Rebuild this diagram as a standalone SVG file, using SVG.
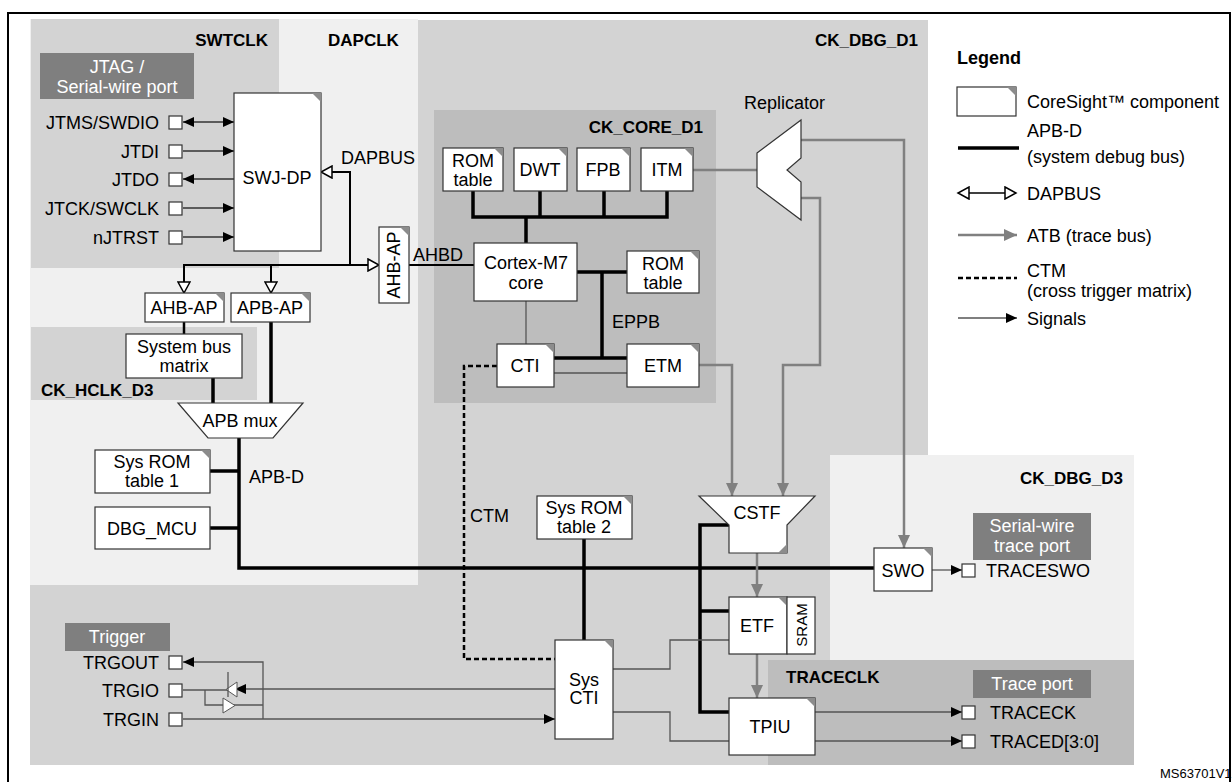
<svg xmlns="http://www.w3.org/2000/svg" width="1232" height="782" viewBox="0 0 1232 782">
<style>
text{font-family:"Liberation Sans",Arial,sans-serif;font-size:18px;fill:#000}
.b{font-weight:bold;font-size:17px}
.w{fill:#fff}
.m{text-anchor:middle}
.e{text-anchor:end}
.box{fill:#fff;stroke:#333;stroke-width:1.2}
.cm{fill:#8c8c8c}
.th{fill:none;stroke:#000;stroke-width:3.5}
.sg{fill:none;stroke:#555;stroke-width:1.3}
.atb{fill:none;stroke:#808080;stroke-width:2.5}
.dp{fill:none;stroke:#000;stroke-width:2}
.pin{fill:#fff;stroke:#333;stroke-width:1.2}
.lbl{fill:#7f7f7f}
</style>
<defs>
<marker id="as" markerUnits="userSpaceOnUse" markerWidth="12" markerHeight="12" refX="11" refY="6" orient="auto-start-reverse"><path d="M0,1 L11,6 L0,11 z" fill="#000"/></marker>
<marker id="ag" markerUnits="userSpaceOnUse" markerWidth="14" markerHeight="14" refX="13" refY="7" orient="auto-start-reverse"><path d="M0,1 L13,7 L0,13 z" fill="#808080"/></marker>
<marker id="ao" markerUnits="userSpaceOnUse" markerWidth="14" markerHeight="14" refX="12" refY="7" orient="auto-start-reverse"><path d="M1,1 L12,7 L1,13 z" fill="#fff" stroke="#000" stroke-width="1.5"/></marker>
</defs>

<g id="background">
<rect x="30" y="20" width="898" height="745" fill="#d3d3d3"/>
<rect x="928" y="14" width="300" height="441" fill="#fff"/>
<rect x="30" y="19" width="388" height="566" fill="#f0f0f0"/>
<rect x="31" y="19" width="248" height="249" fill="#d3d3d3"/>
<rect x="31" y="327" width="226" height="73" fill="#d3d3d3"/>
<rect x="434" y="110" width="282" height="293" fill="#bdbdbd"/>
<rect x="830" y="455" width="304" height="205" fill="#f0f0f0"/>
<rect x="768" y="660" width="366" height="105" fill="#bdbdbd"/>
<path d="M8,782 V13 H1230 V782" fill="none" stroke="#000" stroke-width="2"/>
<text class="b e" x="268" y="46">SWTCLK</text>
<text class="b" x="328" y="46">DAPCLK</text>
<text class="b e" x="918" y="46">CK_DBG_D1</text>
<text class="b e" x="703" y="133">CK_CORE_D1</text>
<text class="b" x="41" y="396">CK_HCLK_D3</text>
<text class="b e" x="1123" y="484">CK_DBG_D3</text>
<text class="b" x="786" y="683">TRACECLK</text>
<text x="1160" y="778" style="font-size:13px">MS63701V1</text>
</g>

<g id="labels">
<rect class="lbl" x="40" y="53" width="154" height="46"/>
<text class="w m" x="117" y="73">JTAG /</text>
<text class="w m" x="117" y="93">Serial-wire port</text>
<rect class="lbl" x="65" y="623" width="105" height="28"/>
<text class="w m" x="117" y="643">Trigger</text>
<rect class="lbl" x="973" y="513" width="118" height="47"/>
<text class="w m" x="1032" y="532">Serial-wire</text>
<text class="w m" x="1032" y="552">trace port</text>
<rect class="lbl" x="973" y="670" width="118" height="28"/>
<text class="w m" x="1032" y="690">Trace port</text>
</g>

<g id="connectors">
<line class="sg" x1="183" y1="122" x2="234" y2="122" marker-start="url(#as)" marker-end="url(#as)" style="stroke:#333"/>
<line class="sg" x1="183" y1="151" x2="234" y2="151" marker-end="url(#as)" style="stroke:#333"/>
<line class="sg" x1="234" y1="179" x2="183" y2="179" marker-end="url(#as)" style="stroke:#333"/>
<line class="sg" x1="183" y1="208" x2="234" y2="208" marker-end="url(#as)" style="stroke:#333"/>
<line class="sg" x1="183" y1="237" x2="234" y2="237" marker-end="url(#as)" style="stroke:#333"/>
<polyline class="dp" points="350,265 350,172 321,172" marker-end="url(#ao)"/>
<line class="dp" x1="184" y1="265" x2="379" y2="265" marker-end="url(#ao)"/>
<line class="dp" x1="184" y1="264" x2="184" y2="293" marker-end="url(#ao)"/>
<line class="dp" x1="271" y1="265" x2="271" y2="293" marker-end="url(#ao)"/>
<text x="341" y="164">DAPBUS</text>
<line x1="409" y1="265" x2="474" y2="265" stroke="#000" stroke-width="2"/>
<text x="413" y="261">AHBD</text>
<line x1="184" y1="322" x2="184" y2="334" stroke="#000" stroke-width="2.5"/>
<line class="th" x1="213" y1="378" x2="213" y2="404"/>
<line class="th" x1="271" y1="322" x2="271" y2="404"/>
<polyline class="th" points="239,438 239,568 874,568"/>
<line class="th" x1="210" y1="471" x2="239" y2="471"/>
<line class="th" x1="210" y1="528" x2="239" y2="528"/>
<text x="249" y="483">APB-D</text>
<line class="th" x1="584" y1="539" x2="584" y2="640"/>
<polyline class="th" points="729,525 700,525 700,712 729,712"/>
<line class="th" x1="700" y1="611" x2="729" y2="611"/>
<polyline class="th" points="473,191 473,217 667,217 667,191"/>
<line class="th" x1="540" y1="191" x2="540" y2="217"/>
<line class="th" x1="604" y1="191" x2="604" y2="217"/>
<line class="th" x1="526" y1="217" x2="526" y2="243"/>
<line class="th" x1="577" y1="272" x2="627" y2="272"/>
<line class="th" x1="602" y1="272" x2="602" y2="358"/>
<line class="th" x1="554" y1="358" x2="627" y2="358"/>
<text x="612" y="328">EPPB</text>
<line class="sg" x1="554" y1="373" x2="627" y2="373"/>
<line class="sg" x1="526" y1="301" x2="526" y2="344"/>
<polyline points="497,366 464,366 464,659 555,659" fill="none" stroke="#000" stroke-width="2.5" stroke-dasharray="5,3"/>
<text x="470" y="522">CTM</text>
<line class="atb" x1="693" y1="170" x2="757" y2="170"/>
<polyline class="atb" points="801,140 904,140 904,548" marker-end="url(#ag)"/>
<polyline class="atb" points="801,198 820,198 820,365 783,365 783,496" marker-end="url(#ag)"/>
<polyline class="atb" points="699,365 732,365 732,496" marker-end="url(#ag)"/>
<line class="atb" x1="757" y1="553" x2="757" y2="597" marker-end="url(#ag)"/>
<line class="atb" x1="757" y1="654" x2="757" y2="698" marker-end="url(#ag)"/>
<line class="sg" x1="932" y1="570" x2="962" y2="570" marker-end="url(#as)"/>
<line class="sg" x1="815" y1="712" x2="962" y2="712" marker-end="url(#as)"/>
<line class="sg" x1="815" y1="741" x2="962" y2="741" marker-end="url(#as)"/>
<polyline class="sg" points="613,669 670,669 670,640 729,640"/>
<polyline class="sg" points="613,712 670,712 670,741 729,741"/>
<polyline class="sg" points="263,719 263,662 183,662" marker-end="url(#as)"/>
<line class="sg" x1="183" y1="719" x2="555" y2="719" marker-end="url(#as)"/>
<line class="sg" x1="555" y1="689" x2="235" y2="689" marker-end="url(#as)"/>
<line class="sg" x1="183" y1="690" x2="230" y2="690"/>
<polyline class="sg" points="205,690 205,705 263,705"/>
<polygon points="237,682 237,697 226,689.5" fill="#fff" stroke="#555" stroke-width="1"/>
<line class="sg" x1="228" y1="672" x2="228" y2="697"/>
<polygon points="223,698 223,713 235,705.5" fill="#fff" stroke="#555" stroke-width="1"/>
</g>

<g id="pins">
<rect class="pin" x="169" y="116" width="13" height="13"/>
<rect class="pin" x="169" y="145" width="13" height="13"/>
<rect class="pin" x="169" y="173" width="13" height="13"/>
<rect class="pin" x="169" y="202" width="13" height="13"/>
<rect class="pin" x="169" y="231" width="13" height="13"/>
<text class="e" x="159" y="129">JTMS/SWDIO</text>
<text class="e" x="159" y="158">JTDI</text>
<text class="e" x="159" y="186">JTDO</text>
<text class="e" x="159" y="215">JTCK/SWCLK</text>
<text class="e" x="159" y="244">nJTRST</text>
<rect class="pin" x="169" y="656" width="13" height="13"/>
<rect class="pin" x="169" y="684" width="13" height="13"/>
<rect class="pin" x="169" y="713" width="13" height="13"/>
<text class="e" x="159" y="669">TRGOUT</text>
<text class="e" x="159" y="697">TRGIO</text>
<text class="e" x="159" y="726">TRGIN</text>
<rect class="pin" x="962" y="564" width="13" height="13"/>
<rect class="pin" x="962" y="706" width="13" height="13"/>
<rect class="pin" x="962" y="735" width="13" height="13"/>
<text x="986" y="577">TRACESWO</text>
<text x="990" y="719">TRACECK</text>
<text x="990" y="748">TRACED[3:0]</text>
</g>

<g id="swj-dp"><rect class="box" x="234" y="93" width="87" height="158"/><polygon class="cm" points="312,93 321,93 321,102"/><text class="m" x="277" y="184">SWJ-DP</text></g>
<g id="ahb-ap-v"><rect class="box" x="379" y="227" width="30" height="76"/><polygon class="cm" points="400,227 409,227 409,236"/><text class="m" transform="translate(400,265) rotate(-90)">AHB-AP</text></g>
<g id="ahb-ap"><rect class="box" x="145" y="293" width="79" height="29"/><polygon class="cm" points="215,293 224,293 224,302"/><text class="m" x="184" y="314">AHB-AP</text></g>
<g id="apb-ap"><rect class="box" x="231" y="293" width="79" height="29"/><polygon class="cm" points="301,293 310,293 310,302"/><text class="m" x="270" y="314">APB-AP</text></g>
<g id="sysbus"><rect class="box" x="126" y="334" width="116" height="44"/><text class="m" x="184" y="353">System bus</text><text class="m" x="184" y="372">matrix</text></g>
<g id="apbmux"><polygon class="box" points="178,403 303,403 273,438 208,438"/><text class="m" x="240" y="427">APB mux</text></g>
<g id="sysrom1"><rect class="box" x="95" y="450" width="115" height="43"/><polygon class="cm" points="201,450 210,450 210,459"/><text class="m" x="152" y="468">Sys ROM</text><text class="m" x="152" y="487">table 1</text></g>
<g id="dbgmcu"><rect class="box" x="95" y="507" width="115" height="42"/><text class="m" x="152" y="535">DBG_MCU</text></g>
<g id="romtable"><rect class="box" x="443" y="148" width="60" height="43"/><polygon class="cm" points="494,148 503,148 503,157"/><text class="m" x="473" y="167">ROM</text><text class="m" x="473" y="186">table</text></g>
<g id="dwt"><rect class="box" x="514" y="148" width="53" height="43"/><polygon class="cm" points="558,148 567,148 567,157"/><text class="m" x="540" y="176">DWT</text></g>
<g id="fpb"><rect class="box" x="577" y="148" width="53" height="43"/><polygon class="cm" points="621,148 630,148 630,157"/><text class="m" x="603" y="176">FPB</text></g>
<g id="itm"><rect class="box" x="641" y="148" width="52" height="43"/><polygon class="cm" points="684,148 693,148 693,157"/><text class="m" x="667" y="176">ITM</text></g>
<g id="cortex"><rect class="box" x="474" y="243" width="103" height="58"/><text class="m" x="526" y="269">Cortex-M7</text><text class="m" x="526" y="289">core</text></g>
<g id="romtable2"><rect class="box" x="627" y="251" width="72" height="42"/><polygon class="cm" points="690,251 699,251 699,260"/><text class="m" x="663" y="270">ROM</text><text class="m" x="663" y="289">table</text></g>
<g id="cti"><rect class="box" x="497" y="344" width="57" height="43"/><polygon class="cm" points="545,344 554,344 554,353"/><text class="m" x="525" y="372">CTI</text></g>
<g id="etm"><rect class="box" x="627" y="344" width="72" height="43"/><polygon class="cm" points="690,344 699,344 699,353"/><text class="m" x="663" y="372">ETM</text></g>
<g id="replicator"><polygon class="box" points="757,153 801,120 801,158 787,170 801,182 801,220 757,187"/><text x="744" y="109">Replicator</text></g>
<g id="sysrom2"><rect class="box" x="537" y="496" width="95" height="43"/><polygon class="cm" points="623,496 632,496 632,505"/><text class="m" x="584" y="514">Sys ROM</text><text class="m" x="584" y="533">table 2</text></g>
<g id="syscti"><rect class="box" x="555" y="640" width="58" height="99"/><polygon class="cm" points="604,640 613,640 613,649"/><text class="m" x="584" y="686">Sys</text><text class="m" x="584" y="704">CTI</text></g>
<g id="cstf"><polygon class="box" points="699,496 815,496 787,525 787,553 729,553 729,525"/><polygon class="cm" points="787,544 787,553 778,553"/><text class="m" x="757" y="519">CSTF</text></g>
<g id="etf"><rect class="box" x="729" y="597" width="58" height="57"/><polygon class="cm" points="778,597 787,597 787,606"/><rect class="box" x="787" y="597" width="28" height="57"/><text class="m" x="757" y="632">ETF</text><text class="m" transform="translate(807,625) rotate(-90)" style="font-size:15px">SRAM</text></g>
<g id="tpiu"><rect class="box" x="729" y="698" width="86" height="57"/><polygon class="cm" points="806,698 815,698 815,707"/><text class="m" x="770" y="733">TPIU</text></g>
<g id="swo"><rect class="box" x="874" y="548" width="58" height="43"/><polygon class="cm" points="923,548 932,548 932,557"/><text class="m" x="903" y="577">SWO</text></g>

<g id="legend">
<text class="b" x="957" y="64" style="font-size:18px">Legend</text>
<rect class="box" x="957" y="87" width="59" height="29"/><polygon class="cm" points="1007,87 1016,87 1016,96"/>
<text x="1027" y="108">CoreSight™ component</text>
<line class="th" x1="958" y1="148" x2="1019" y2="148"/>
<text x="1027" y="137">APB-D</text><text x="1027" y="163">(system debug bus)</text>
<line class="sg" x1="958" y1="193" x2="1016" y2="193" style="stroke:#000;stroke-width:1.5" marker-start="url(#ao)" marker-end="url(#ao)"/>
<text x="1027" y="200">DAPBUS</text>
<line class="atb" x1="958" y1="235" x2="1017" y2="235" marker-end="url(#ag)"/>
<text x="1027" y="242">ATB (trace bus)</text>
<line x1="958" y1="278" x2="1017" y2="278" stroke="#000" stroke-width="2.5" stroke-dasharray="5,3"/>
<text x="1027" y="277">CTM</text><text x="1027" y="297">(cross trigger matrix)</text>
<line class="sg" x1="958" y1="318" x2="1017" y2="318" marker-end="url(#as)"/>
<text x="1027" y="325">Signals</text>
</g>
</svg>
